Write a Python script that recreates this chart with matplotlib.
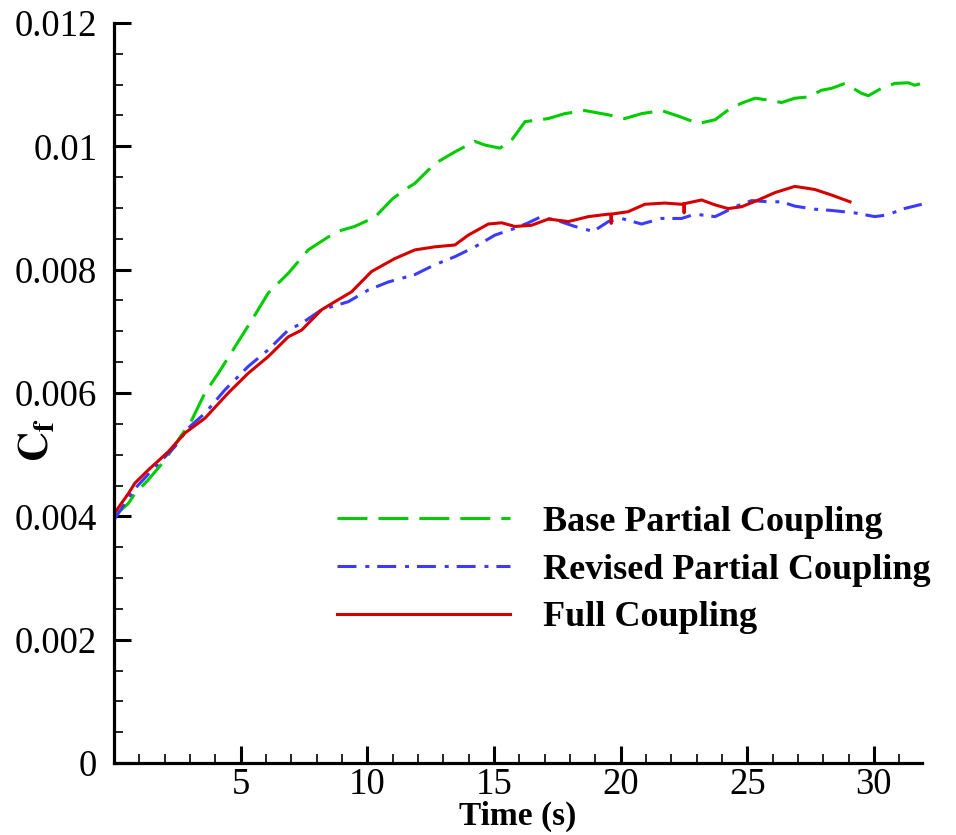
import matplotlib
matplotlib.use("Agg")
import matplotlib.pyplot as plt
from matplotlib.ticker import MultipleLocator, FuncFormatter

# Base Partial Coupling (green dashed)
t_base = [0.0, 0.57, 0.83, 1.35, 2.01, 2.54, 3.07, 3.59, 4.12, 4.78, 5.44, 6.09,
          6.88, 7.67, 8.46, 8.99, 9.5, 10.3, 11.0, 11.5, 11.88, 12.67, 13.46, 14.25,
          14.65, 15.24, 15.70, 16.23, 17.15, 17.80, 18.59, 19.52, 20.17, 20.83,
          21.62, 22.28, 23.07, 23.73, 24.25, 24.78, 25.31, 25.83, 26.36, 26.88,
          27.41, 27.94, 28.33, 28.86, 29.51, 29.78, 30.30, 30.83, 31.36, 31.62, 31.89]
cf_base = [0.00400, 0.00421, 0.00437, 0.00459, 0.00491, 0.00524, 0.00556, 0.00600,
           0.00632, 0.00675, 0.00718, 0.00762, 0.00794, 0.00832, 0.00853, 0.00864,
           0.00870, 0.00885, 0.00915, 0.00930, 0.00940, 0.00972, 0.00991, 0.01008,
           0.01002, 0.00997, 0.01010, 0.01040, 0.01045, 0.01053, 0.01058, 0.01051,
           0.01045, 0.01053, 0.01058, 0.01049, 0.01037, 0.01043, 0.01059, 0.01070,
           0.01078, 0.01075, 0.01071, 0.01078, 0.01080, 0.01091, 0.01094, 0.01102,
           0.01086, 0.01082, 0.01094, 0.01102, 0.01103, 0.01099, 0.01102]

# Revised Partial Coupling (blue dash-dot)
t_rev = [0.0, 0.43, 0.83, 1.62, 2.41, 2.93, 3.59, 4.38, 5.30, 6.09, 6.88, 7.41,
         8.20, 9.25, 10.04, 10.83, 11.88, 12.67, 13.46, 14.25, 15.04, 15.83, 16.36,
         16.82, 17.41, 18.20, 18.92, 19.52, 20.04, 20.83, 21.62, 22.41, 22.94,
         23.73, 23.99, 24.52, 25.18, 25.83, 26.36, 26.88, 27.67, 28.33, 29.25,
         30.04, 30.57, 31.10, 31.89]
cf_rev = [0.00394, 0.00421, 0.00445, 0.00480, 0.00513, 0.00543, 0.00567, 0.00605,
          0.00643, 0.00670, 0.00702, 0.00713, 0.00735, 0.00748, 0.00767, 0.00780,
          0.00792, 0.00808, 0.00821, 0.00837, 0.00856, 0.00867, 0.00876, 0.00885,
          0.00881, 0.00870, 0.00862, 0.00878, 0.00883, 0.00874, 0.00883, 0.00883,
          0.00890, 0.00886, 0.00891, 0.00902, 0.00912, 0.00910, 0.00910, 0.00903,
          0.00898, 0.00896, 0.00892, 0.00886, 0.00889, 0.00898, 0.00906]

# Full Coupling (red solid)
t_full = [0.0, 0.57, 0.83, 1.35, 2.15, 2.80, 3.59, 4.51, 5.30, 6.09, 6.88, 7.41,
          8.20, 8.72, 9.38, 10.17, 11.09, 11.88, 12.67, 13.46, 13.99, 14.78, 15.31,
          15.83, 16.49, 17.15, 17.94, 18.73, 19.52, 19.62, 19.63, 19.64, 20.30,
          20.96, 21.75, 22.41, 22.50, 22.51, 22.52, 23.20, 23.73, 24.25, 24.78,
          25.44, 26.10, 26.88, 27.67, 28.33, 29.06]
cf_full = [0.00404, 0.00437, 0.00454, 0.00475, 0.00505, 0.00535, 0.00559, 0.00600,
           0.00632, 0.00659, 0.00691, 0.00702, 0.00735, 0.00748, 0.00764, 0.00797,
           0.00818, 0.00832, 0.00837, 0.00840, 0.00856, 0.00874, 0.00876, 0.00870,
           0.00872, 0.00882, 0.00878, 0.00886, 0.00890, 0.00890, 0.00875, 0.00890,
           0.00894, 0.00906, 0.00908, 0.00906, 0.00907, 0.00892, 0.00907, 0.00913,
           0.00905, 0.00899, 0.00902, 0.00913, 0.00925, 0.00935, 0.00930, 0.00921,
           0.00910]

plt.rcParams['font.family'] = ['Liberation Serif', 'DejaVu Serif']
plt.rcParams['mathtext.fontset'] = 'stix'

fig = plt.figure(figsize=(9.56, 8.35), dpi=100)
ax = fig.add_axes([0.1192, 0.0862, 0.8452, 0.8863])

# dash lengths are in multiples of the line width
ax.plot(t_base, cf_base, color='#00cc00', lw=2.2, dashes=(9.8, 3.6),
        label='Base Partial Coupling')
ax.plot(t_rev, cf_rev, color='#3b3bff', lw=2.2, dashes=(6.2, 2.9, 1.3, 2.6),
        label='Revised Partial Coupling')
ax.plot(t_full, cf_full, color='#d40000', lw=2.2, label='Full Coupling')

ax.set_xlim(0, 31.9)
ax.set_ylim(0, 0.012)
ax.set_xticks([5, 10, 15, 20, 25, 30])
ax.xaxis.set_minor_locator(MultipleLocator(1))
ax.yaxis.set_major_locator(MultipleLocator(0.002))
ax.yaxis.set_minor_locator(MultipleLocator(0.0005))
ax.yaxis.set_major_formatter(FuncFormatter(lambda v, p: '%g' % round(v, 6)))

for side in ['top', 'right']:
    ax.spines[side].set_visible(False)
for side in ['left', 'bottom']:
    ax.spines[side].set_linewidth(2.3)

ax.tick_params(which='major', direction='in', length=12, width=2.2, labelsize=26.5)
ax.tick_params(which='minor', direction='in', length=6.5, width=1.2)
ax.tick_params(axis='x', which='major', pad=3)
ax.tick_params(axis='y', which='major', pad=12)

ax.set_xlabel('Time (s)', fontsize=24, fontweight='bold', labelpad=-1)
ax.set_ylabel(r'$\mathbf{C_f}$', fontsize=30)
ax.yaxis.set_label_coords(-0.07, 0.436)

leg = ax.legend(loc='center left', bbox_to_anchor=(0.276, 0.261), frameon=False,
                prop={'weight': 'bold', 'size': 26}, handlelength=4.8,
                handletextpad=0.9, borderpad=0, borderaxespad=0, labelspacing=0.4)

fig.savefig('out.png', dpi=100)
